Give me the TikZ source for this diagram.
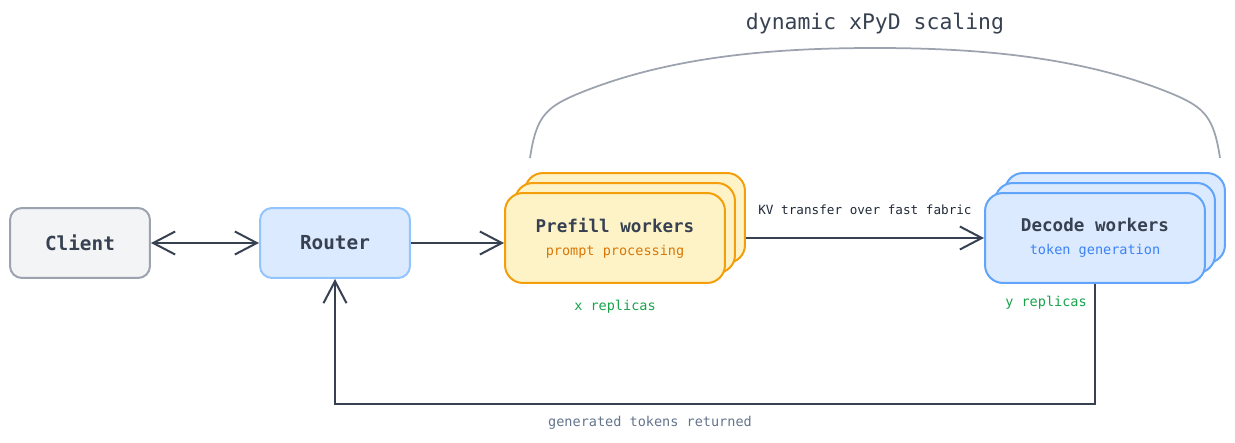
\documentclass[tikz,border=0pt]{standalone}
\usepackage{fontspec}
\setmonofont{DejaVu Sans Mono}
\usepackage{tikz}
\usetikzlibrary{arrows.meta}

\definecolor{ink}{HTML}{374151}
\definecolor{darkink}{HTML}{1F2937}
\definecolor{clientfill}{HTML}{F3F4F6}
\definecolor{clientline}{HTML}{9CA3AF}
\definecolor{routerfill}{HTML}{DBEAFE}
\definecolor{routerline}{HTML}{93C5FD}
\definecolor{prefill}{HTML}{FEF3C7}
\definecolor{preline}{HTML}{F59E0B}
\definecolor{pretext}{HTML}{D97706}
\definecolor{decline}{HTML}{60A5FA}
\definecolor{dectext}{HTML}{3B82F6}
\definecolor{repgreen}{HTML}{16A34A}
\definecolor{retgray}{HTML}{64748B}

\begin{document}
\begin{tikzpicture}[x=0.02cm, y=-0.02cm,
    every node/.style={font=\ttfamily, text=ink},
    box/.style={draw, line width=0.04cm, rounded corners=0.24cm, minimum height=1.4cm, font=\ttfamily\fontsize{11}{13}\selectfont\bfseries},
    worker/.style={draw, line width=0.04cm, rounded corners=0.36cm, minimum width=4.4cm, minimum height=1.8cm, align=center, font=\ttfamily\fontsize{10}{12}\selectfont\bfseries},
    small/.style={font=\ttfamily\fontsize{7.7}{9}\selectfont},
    flow/.style={line width=0.04cm, color=ink, arrows={-Straight Barb[length=4.4mm, width=4.6mm]}}
  ]
        \useasboundingbox (0,0) rectangle (1235,443);

        % title and scaling arc
        \node[font=\ttfamily\fontsize{12.2}{14}\selectfont] (title) at (875,24) {dynamic xPyD scaling};
        \draw[line width=0.035cm, color=clientline] (530,158) .. controls (536,118) and (545,108) .. (575,95)
            .. controls (670,55) and (780,48) .. (875,48)
            .. controls (970,48) and (1080,55) .. (1175,95)
            .. controls (1205,108) and (1214,118) .. (1220,158);

        % client and router
        \node[box, fill=clientfill, draw=clientline, minimum width=2.8cm] (client) at (80,243) {Client};
        \node[box, fill=routerfill, draw=routerline, minimum width=3cm] (router) at (335,243) {Router};

        % prefill stack
        \node[worker, fill=prefill, draw=preline] (pre3) at (635,218) {};
        \node[worker, fill=prefill, draw=preline] (pre2) at (625,228) {};
        \node[worker, fill=prefill, draw=preline] (pre1) at (615,238) {Prefill workers\\[1pt]{\mdseries\fontsize{7.7}{9}\selectfont\color{pretext}prompt processing}};

        % decode stack
        \node[worker, fill=routerfill, draw=decline] (dec3) at (1115,218) {};
        \node[worker, fill=routerfill, draw=decline] (dec2) at (1105,228) {};
        \node[worker, fill=routerfill, draw=decline] (dec1) at (1095,238) {Decode workers\\[1pt]{\mdseries\fontsize{7.7}{9}\selectfont\color{dectext}token generation}};

        % flows
        \draw[flow, arrows={Straight Barb[length=4.4mm, width=4.6mm]-Straight Barb[length=4.4mm, width=4.6mm]}] (client) -- (router);
        \draw[flow] (router.east) -- (router.east -| pre1.west);
        \draw[flow] (pre1.east -| pre3.east) -- (dec1.west);
        \draw[flow] (dec1.south) -- ++(0,120) -| (router.south);

        % labels
        \node[small, text=darkink, font=\ttfamily\fontsize{7.2}{9}\selectfont] (kvlabel) at (865,210) {KV transfer over fast fabric};
        \node[small, text=repgreen] (xrep) at (615,307) {x replicas};
        \node[small, text=repgreen] (yrep) at (1046,303) {y replicas};
        \node[small, text=retgray] (retlabel) at (650,423) {generated tokens returned};
    \end{tikzpicture}
\end{document}
